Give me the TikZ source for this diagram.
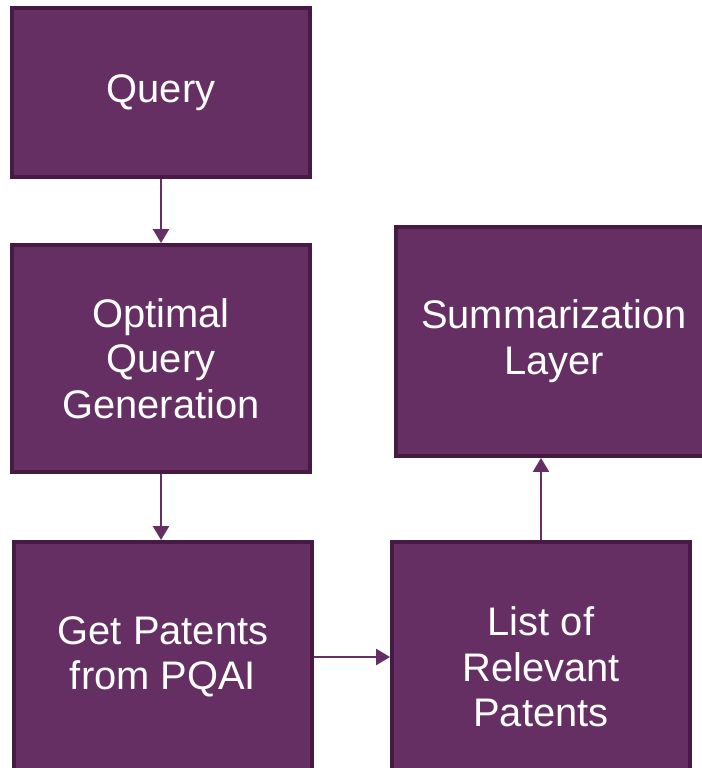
\documentclass[tikz,border=0pt]{standalone}
\usepackage{fontspec}
\setmainfont{Liberation Sans}
\usepackage{tikz}
\usetikzlibrary{arrows.meta}
\definecolor{ColBox}{RGB}{101,47,100}
\definecolor{ColLine}{RGB}{70,26,68}
\tikzstyle{NodeBox}=[rectangle,draw=ColLine,fill=ColBox,line width=0.08cm,
text=white,align=center,inner sep=0pt,minimum width=5.96cm,
font=\fontsize{22.7}{26}\selectfont]
\tikzstyle{EdgeFlow}=[ColBox,line width=0.05cm,-{Triangle[width=0.32cm,length=0.28cm]}]
\begin{document}
\begin{tikzpicture}[x=0.02cm,y=-0.02cm]
        \useasboundingbox (0,0) rectangle (701,768);
        \node[NodeBox,minimum height=3.38cm](query)at(161,92.5){Query};
        \node[NodeBox,minimum height=4.54cm](optimal)at(161,358.5){Optimal\\Query\\Generation};
        \node[NodeBox,minimum height=4.6cm,anchor=north](pqai)at(163,540){Get Patents\\from PQAI};
        \node[NodeBox,minimum height=5cm,anchor=north](relevant)at(541,540){List of\\Relevant\\Patents};
        \node[NodeBox,minimum width=6.32cm,minimum height=4.58cm](summary)at(554,341.5){Summarization\\Layer};
        \draw[EdgeFlow](query.south)--(optimal.north);
        \draw[EdgeFlow](optimal.south)--(optimal.south|-pqai.north);
        \draw[EdgeFlow](pqai.east)--(pqai.east-|relevant.west);
        \draw[EdgeFlow](relevant.north)--(relevant.north|-summary.south);
    \end{tikzpicture}
\end{document}
